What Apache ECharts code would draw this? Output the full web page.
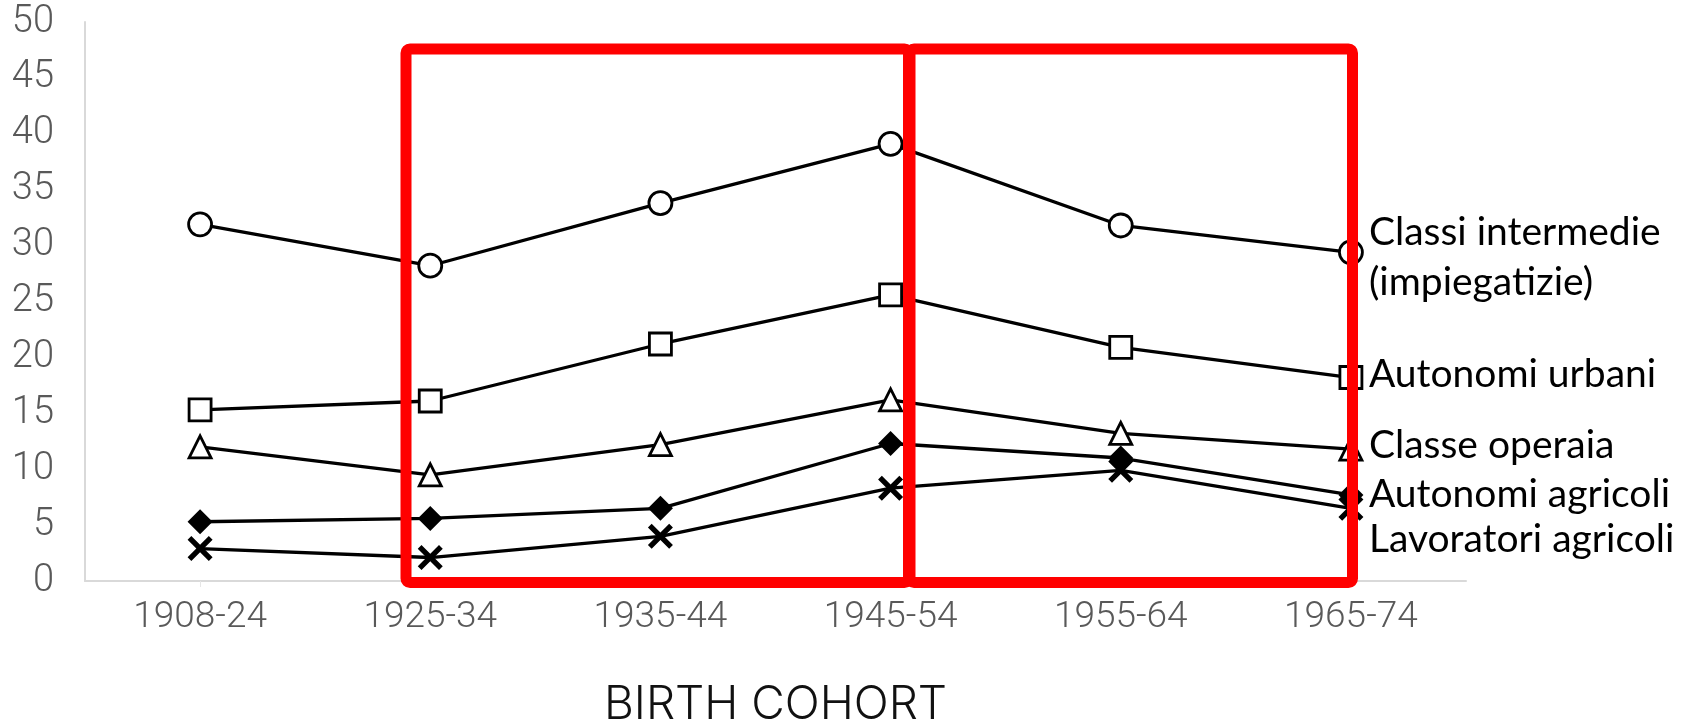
<!DOCTYPE html>
<html>
<head>
<meta charset="utf-8">
<script src="https://cdn.jsdelivr.net/npm/echarts@6/dist/echarts.min.js"></script>
<style>html,body{margin:0;padding:0;background:#fff;overflow:hidden;}#c{width:1697px;height:721px;}</style>
</head>
<body>
<div id="c"></div>
<script>
const categories = ['1908-24', '1925-34', '1935-44', '1945-54', '1955-64', '1965-74'];
const classiIntermedie = [31.9, 28.2, 33.8, 39.1, 31.8, 29.4];
const autonomiUrbani = [15.3, 16.1, 21.2, 25.6, 20.9, 18.2];
const classeOperaia = [12.0, 9.5, 12.2, 16.2, 13.2, 11.8];
const autonomiAgricoli = [5.3, 5.6, 6.5, 12.3, 11.0, 7.7];
const lavoratoriAgricoli = [2.9, 2.1, 4.0, 8.3, 9.9, 6.5];
const yTicks = [0, 5, 10, 15, 20, 25, 30, 35, 40, 45, 50];

const X_PATH = 'path://M3,0 L10,7 L17,0 L20,3 L13,10 L20,17 L17,20 L10,13 L3,20 L0,17 L7,10 L0,3 Z';
const labelFont = { fontFamily: 'Lato', fontSize: 39, color: '#000' };

function mk(name, data, symbol, size, fill, labelText, dy) {
  return {
    name: name, type: 'line', data: data,
    symbol: symbol, symbolSize: size,
    lineStyle: { color: '#000', width: 3.3 },
    itemStyle: { color: fill, borderColor: '#000', borderWidth: fill === '#000' ? 0 : 2.8 },
    z: 3,
    endLabel: Object.assign({
      show: true, formatter: labelText, distance: 18, offset: [0, dy],
      lineHeight: 50, align: 'left', verticalAlign: 'middle'
    }, labelFont),
    animation: false
  };
}

const chart = echarts.init(document.getElementById('c'), null, { renderer: 'canvas' });
chart.setOption({
  backgroundColor: '#fff',
  animation: false,
  grid: { left: 85, right: 231, top: 22, bottom: 140, containLabel: false, outerBoundsMode: 'none' },
  xAxis: {
    type: 'category', data: categories, boundaryGap: true,
    axisLine: { lineStyle: { color: '#d9d9d9', width: 2 } },
    axisTick: { show: true, alignWithLabel: true, length: 6, lineStyle: { color: '#e6e6e6' } },
    axisLabel: { fontFamily: 'Roboto', fontWeight: 300, fontSize: 37, color: '#595959', margin: 18 },
    name: 'BIRTH COHORT', nameLocation: 'middle', nameGap: 101,
    nameTextStyle: { fontFamily: 'Inter', fontWeight: 300, fontSize: 46, color: '#111' }
  },
  yAxis: {
    type: 'value', min: 0, max: 50, interval: 5,
    axisLine: { show: true, lineStyle: { color: '#d9d9d9', width: 2 } },
    axisTick: { show: false },
    splitLine: { show: false },
    axisLabel: { fontFamily: 'Roboto', fontWeight: 300, fontSize: 38, color: '#595959', margin: 31,
      formatter: function (v) { return yTicks.indexOf(v) >= 0 ? String(v) : ''; } }
  },
  series: [
    mk('Classi intermedie', classiIntermedie, 'circle', 23, '#fff', 'Classi intermedie\n(impiegatizie)', 5),
    mk('Autonomi urbani', autonomiUrbani, 'rect', 22, '#fff', 'Autonomi urbani', -3),
    mk('Classe operaia', classeOperaia, 'triangle', 22, '#fff', 'Classe operaia', -4),
    mk('Autonomi agricoli', autonomiAgricoli, 'diamond', 25, '#000', 'Autonomi agricoli', 0),
    mk('Lavoratori agricoli', lavoratoriAgricoli, X_PATH, 25, '#000', 'Lavoratori agricoli', 31)
  ],
  graphic: [
    { type: 'rect', z: 100, shape: { x: 406, y: 49, width: 502.5, height: 533.5, r: 4 },
      style: { fill: 'none', stroke: '#ff0000', lineWidth: 11 } },
    { type: 'rect', z: 100, shape: { x: 910, y: 49, width: 442.5, height: 533.5, r: 4 },
      style: { fill: 'none', stroke: '#ff0000', lineWidth: 11 } }
  ]
});
</script>
</body>
</html>
